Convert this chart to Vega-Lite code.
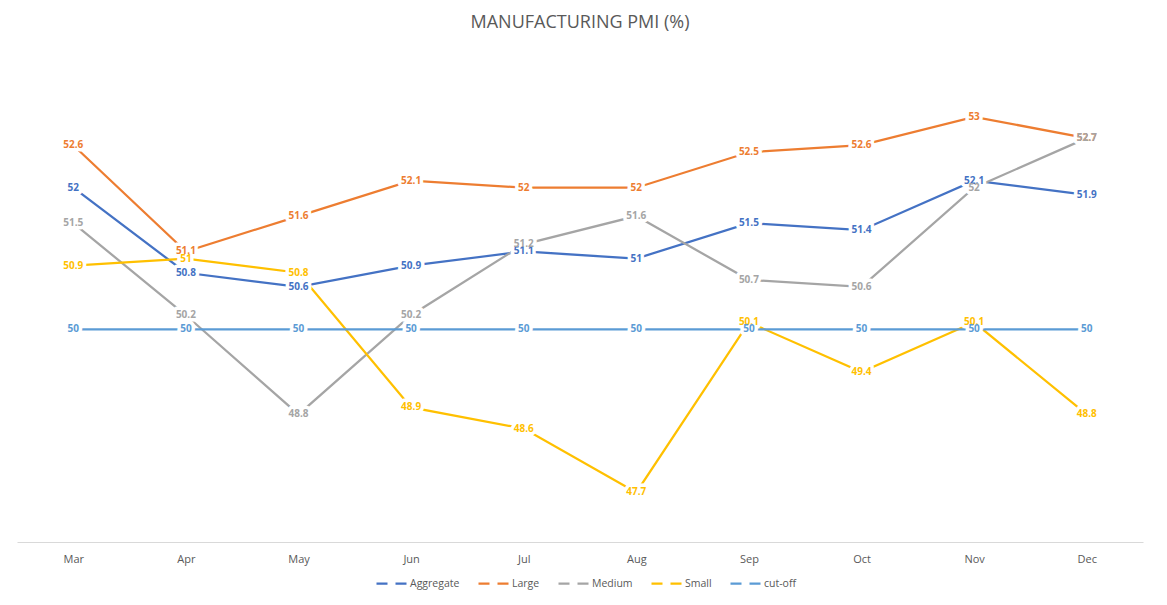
{
  "$schema": "https://vega.github.io/schema/vega-lite/v6.json",
  "width": 1167,
  "height": 605,
  "autosize": {"type": "fit", "contains": "padding"},
  "padding": {"left": 17, "right": 24, "top": 14, "bottom": 41},
  "background": "white",
  "title": {"text": "MANUFACTURING PMI (%)", "fontSize": 18, "fontWeight": "normal", "color": "#595959", "font": "Open Sans", "anchor": "middle", "offset": 14},
  "config": {
    "view": {"stroke": null},
    "font": "Open Sans"
  },
  "data": {
    "values": [
      {"month": "Mar", "series": "Aggregate", "value": 52},
      {"month": "Apr", "series": "Aggregate", "value": 50.8},
      {"month": "May", "series": "Aggregate", "value": 50.6},
      {"month": "Jun", "series": "Aggregate", "value": 50.9},
      {"month": "Jul", "series": "Aggregate", "value": 51.1},
      {"month": "Aug", "series": "Aggregate", "value": 51},
      {"month": "Sep", "series": "Aggregate", "value": 51.5},
      {"month": "Oct", "series": "Aggregate", "value": 51.4},
      {"month": "Nov", "series": "Aggregate", "value": 52.1},
      {"month": "Dec", "series": "Aggregate", "value": 51.9},
      {"month": "Mar", "series": "Large", "value": 52.6},
      {"month": "Apr", "series": "Large", "value": 51.1},
      {"month": "May", "series": "Large", "value": 51.6},
      {"month": "Jun", "series": "Large", "value": 52.1},
      {"month": "Jul", "series": "Large", "value": 52},
      {"month": "Aug", "series": "Large", "value": 52},
      {"month": "Sep", "series": "Large", "value": 52.5},
      {"month": "Oct", "series": "Large", "value": 52.6},
      {"month": "Nov", "series": "Large", "value": 53},
      {"month": "Dec", "series": "Large", "value": 52.7},
      {"month": "Mar", "series": "Medium", "value": 51.5},
      {"month": "Apr", "series": "Medium", "value": 50.2},
      {"month": "May", "series": "Medium", "value": 48.8},
      {"month": "Jun", "series": "Medium", "value": 50.2},
      {"month": "Jul", "series": "Medium", "value": 51.2},
      {"month": "Aug", "series": "Medium", "value": 51.6},
      {"month": "Sep", "series": "Medium", "value": 50.7},
      {"month": "Oct", "series": "Medium", "value": 50.6},
      {"month": "Nov", "series": "Medium", "value": 52},
      {"month": "Dec", "series": "Medium", "value": 52.7},
      {"month": "Mar", "series": "Small", "value": 50.9},
      {"month": "Apr", "series": "Small", "value": 51},
      {"month": "May", "series": "Small", "value": 50.8},
      {"month": "Jun", "series": "Small", "value": 48.9},
      {"month": "Jul", "series": "Small", "value": 48.6},
      {"month": "Aug", "series": "Small", "value": 47.7},
      {"month": "Sep", "series": "Small", "value": 50.1},
      {"month": "Oct", "series": "Small", "value": 49.4},
      {"month": "Nov", "series": "Small", "value": 50.1},
      {"month": "Dec", "series": "Small", "value": 48.8},
      {"month": "Mar", "series": "cut-off", "value": 50},
      {"month": "Apr", "series": "cut-off", "value": 50},
      {"month": "May", "series": "cut-off", "value": 50},
      {"month": "Jun", "series": "cut-off", "value": 50},
      {"month": "Jul", "series": "cut-off", "value": 50},
      {"month": "Aug", "series": "cut-off", "value": 50},
      {"month": "Sep", "series": "cut-off", "value": 50},
      {"month": "Oct", "series": "cut-off", "value": 50},
      {"month": "Nov", "series": "cut-off", "value": 50},
      {"month": "Dec", "series": "cut-off", "value": 50}
    ]
  },
  "encoding": {
    "x": {
      "field": "month", "type": "ordinal",
      "sort": ["Mar", "Apr", "May", "Jun", "Jul", "Aug", "Sep", "Oct", "Nov", "Dec"],
      "scale": {"type": "point", "padding": 0.5},
      "axis": {"title": null, "labelAngle": 0, "ticks": false, "domainColor": "#D9D9D9", "domainWidth": 1, "labelColor": "#595959", "labelFontSize": 11, "labelPadding": 11, "grid": false}
    },
    "y": {
      "field": "value", "type": "quantitative",
      "scale": {"domain": [47, 54], "zero": false, "nice": false},
      "axis": null
    }
  },
  "layer": [
    {
      "mark": {"type": "line", "strokeWidth": 2.25},
      "encoding": {
        "color": {
          "field": "series", "type": "nominal",
          "scale": {"domain": ["Aggregate", "Large", "Medium", "Small", "cut-off"], "range": ["#4472C4", "#ED7D31", "#A5A5A5", "#FFC000", "#5B9BD5"]},
          "legend": {"title": null, "orient": "none", "legendX": 358, "legendY": 521, "direction": "horizontal", "symbolType": "stroke", "symbolStrokeWidth": 2.25, "symbolSize": 900, "symbolDash": [11, 8], "labelColor": "#595959", "labelFontSize": 10.5, "labelOffset": 2, "columnPadding": 14}
        }
      }
    },
    {
      "mark": {"type": "text", "fontSize": 10, "fontWeight": "bold", "stroke": "white", "strokeWidth": 7, "fill": "white", "strokeJoin": "round"},
      "encoding": {
        "text": {"field": "value", "type": "quantitative", "format": "~g"}
      }
    },
    {
      "mark": {"type": "text", "fontSize": 10, "fontWeight": "bold"},
      "encoding": {
        "text": {"field": "value", "type": "quantitative", "format": "~g"},
        "color": {"field": "series", "type": "nominal"}
      }
    }
  ]
}
